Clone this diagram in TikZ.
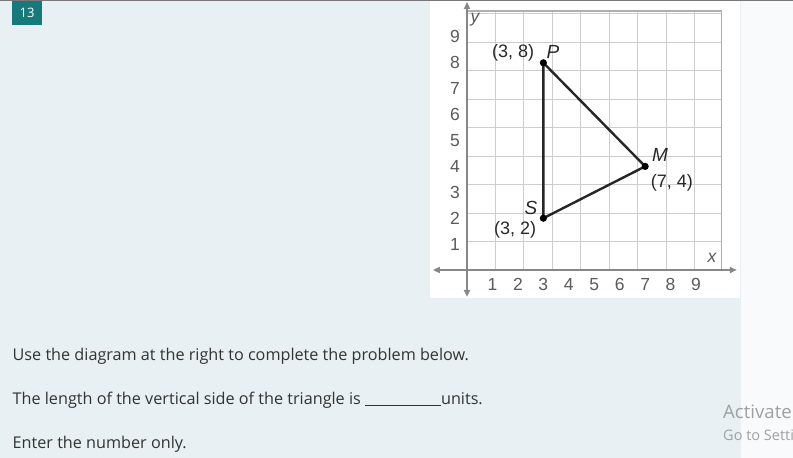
\documentclass[tikz,border=0pt]{standalone}
\usepackage{fontspec}
\setmainfont{Open Sans}
\newfontfamily\arialf{Liberation Sans}
\usetikzlibrary{arrows.meta}
\definecolor{bgmain}{RGB}{232,240,243}
\definecolor{bgright}{RGB}{249,250,251}
\definecolor{topline}{RGB}{120,120,120}
\definecolor{badgeteal}{RGB}{22,122,123}
\definecolor{gridc}{RGB}{205,205,205}
\definecolor{gridb}{RGB}{175,175,175}
\definecolor{axisc}{RGB}{135,135,135}
\definecolor{numc}{RGB}{90,90,90}
\definecolor{lblc}{RGB}{40,40,40}
\definecolor{bodytext}{RGB}{51,51,51}
\definecolor{watermark}{RGB}{160,160,160}
\tikzset{
  badge/.style={fill=badgeteal, text=white, minimum width=30pt, minimum height=24pt, inner sep=0pt, font=\fontsize{13}{15}\selectfont},
  gridline/.style={draw=gridc, line width=0.9pt},
  gridborder/.style={draw=gridb, line width=1.2pt},
  axisline/.style={draw=axisc, line width=1.8pt, {Triangle[length=7pt,width=6pt]}-{Triangle[length=7pt,width=6pt]}},
  num/.style={text=numc, inner sep=0pt, font=\arialf\fontsize{17.5}{19}\selectfont},
  axlbl/.style={text=numc, inner sep=0pt, font=\arialf\itshape\fontsize{17.5}{19}\selectfont},
  ptlbl/.style={text=lblc, inner sep=0pt, font=\arialf\fontsize{18}{20}\selectfont},
  ptname/.style={text=lblc, inner sep=0pt, font=\arialf\itshape\fontsize{19}{21}\selectfont},
  tri/.style={draw=black!85, line width=2.4pt, line join=round},
  body/.style={text=bodytext, anchor=base west, inner sep=0pt, font=\fontsize{16.2}{19}\selectfont},
  wm/.style={text=watermark, anchor=base west, inner sep=0pt},
}
\begin{document}
\begin{tikzpicture}[x=1pt,y=-1pt]
\useasboundingbox (0,0) rectangle (793,458);
\clip (0,0) rectangle (793,458);
\fill[bgmain] (0,0) rectangle (741,458);
\fill[bgright] (741,0) rectangle (793,458);
\draw[topline, line width=1.2pt] (0,0.6) -- (793,0.6);
\node[badge] (badge) at (27,12.5) {13};
\fill[white] (430,1.2) rectangle (740,298);
\coordinate (O) at (467,270);
\begin{scope}[shift={(O)}, x=25.45pt, y=25.9pt]
  \draw[gridline] (0,0) grid (10,10);
  \draw[gridborder] (0,10) -- (10,10) -- (10,0);
  \coordinate (XL) at (-1.34,0);
  \coordinate (XR) at (10.6,0);
  \coordinate (YB) at (0,-1.04);
  \coordinate (YT) at (0,10.35);
  \draw[axisline] (XL) -- (XR);
  \draw[axisline] (YB) -- (YT);
  \foreach \i in {1,...,9} {
    \node[num] (xn\i) at (\i,-0.55) {\i};
    \node[num] (yn\i) at (-0.47,\i) {\i};
  }
  \node[axlbl] (ylab) at (0.31,9.65) {y};
  \node[axlbl] (xlab) at (9.63,0.46) {x};
  \coordinate (P) at (3,8);
  \coordinate (M) at (7,4);
  \coordinate (S) at (3,2);
  \draw[tri] (P) -- (M) -- (S) -- cycle;
  \foreach \p in {P,M,S} \fill[black] (\p) circle (3.6pt);
  \node[ptlbl] (Pc) at (1.81,8.38) {(3, 8)};
  \node[ptname] (Pn) at (3.38,8.42) {P};
  \node[ptname] (Mn) at (7.58,4.44) {M};
  \node[ptlbl] (Mc) at (8.05,3.36) {(7, 4)};
  \node[ptname] (Sn) at (2.51,2.39) {S};
  \node[ptlbl] (Sc) at (1.89,1.54) {(3, 2)};
\end{scope}
\node[body] (l1) at (12.5,360) {Use the diagram at the right to complete the problem below.};
\node[body] (l2) at (12.5,404) {The length of the vertical side of the triangle is \rule[-1.5pt]{76pt}{0.7pt}units.};
\node[body] (l3) at (12.5,448) {Enter the number only.};
\node[wm, font=\fontsize{18.6}{21}\selectfont] (w1) at (723,418) {Activate};
\node[wm, font=\fontsize{14.5}{16}\selectfont] (w2) at (723,440) {Go to Setti};
\end{tikzpicture}
\end{document}
